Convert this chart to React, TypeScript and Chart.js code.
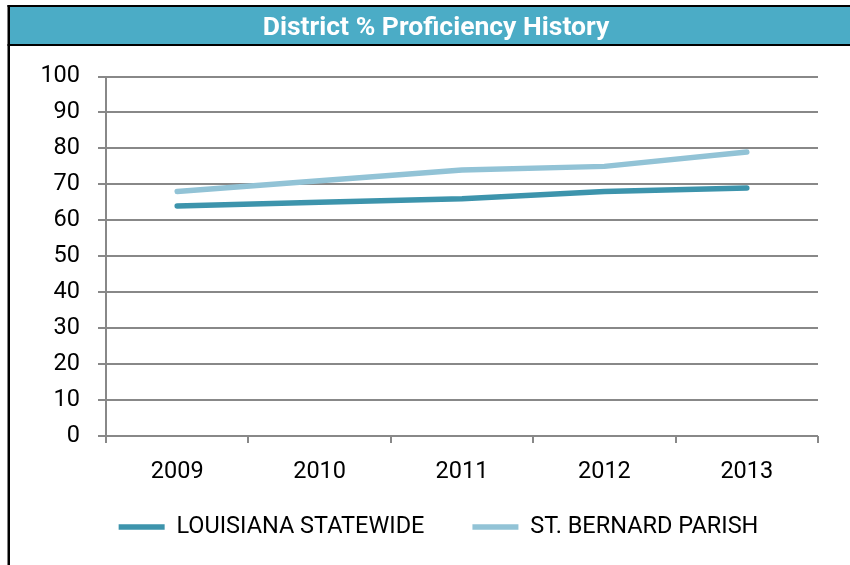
import React, { useEffect, useRef } from 'react';
import { Chart, registerables } from 'chart.js';

Chart.register(...registerables);

const categories = ['2009', '2010', '2011', '2012', '2013'];
const louisianaStatewide = [64, 65, 66, 68, 69];
const stBernardParish = [68, 71, 74, 75, 79];
const seriesLabels = ['LOUISIANA STATEWIDE', 'ST. BERNARD PARISH'];
const chartTitle = 'District % Proficiency History';
const yMin = 0;
const yMax = 100;
const yStep = 10;

const FONT = 'Roboto, "Noto Sans", sans-serif';

const framePlugin = {
  id: 'frame',
  beforeDraw(chart: any) {
    const { ctx, width, height } = chart;
    ctx.save();
    ctx.fillStyle = '#ffffff';
    ctx.fillRect(0, 0, width, height);
    ctx.fillStyle = '#4bacc6';
    ctx.fillRect(9, 7, width - 9, 37);
    ctx.fillStyle = '#000000';
    ctx.fillRect(7.5, 5, width, 2);
    ctx.fillRect(7.5, 44, width, 2);
    ctx.fillRect(7.5, 5, 2.5, height);
    ctx.restore();
  },
  afterLayout(chart: any) {
    const lg = chart.legend;
    if (lg) {
      lg.left = 59;
      lg.right = 818;
      lg.top -= 12.75;
      lg.bottom -= 12.75;
    }
    const tb = chart.titleBlock;
    if (tb) {
      tb.left = 54;
      tb.right = 818;
    }
  },
};

export default function App() {
  const canvasRef = useRef<HTMLCanvasElement | null>(null);

  useEffect(() => {
    if (!canvasRef.current) return;
    const tickFont = { family: FONT, size: 23.5 };
    const chart = new Chart(canvasRef.current, {
      type: 'line',
      data: {
        labels: categories,
        datasets: [
          {
            label: seriesLabels[0],
            data: louisianaStatewide,
            borderColor: '#3d94ac',
            backgroundColor: '#3d94ac',
            borderWidth: 5.5,
            borderCapStyle: 'round',
            borderJoinStyle: 'round',
            pointRadius: 0,
            pointHoverRadius: 0,
            tension: 0,
            fill: false,
          },
          {
            label: seriesLabels[1],
            data: stBernardParish,
            borderColor: '#92c3d6',
            backgroundColor: '#92c3d6',
            borderWidth: 5.5,
            borderCapStyle: 'round',
            borderJoinStyle: 'round',
            pointRadius: 0,
            pointHoverRadius: 0,
            tension: 0,
            fill: false,
          },
        ],
      },
      options: {
        responsive: false,
        animation: false,
        events: [],
        layout: { padding: { left: 0, right: 32, top: 0, bottom: 3.5 } },
        plugins: {
          title: {
            display: true,
            text: chartTitle,
            color: '#ffffff',
            font: { family: FONT, size: 26.5, weight: 'bold', lineHeight: 1.2 },
            padding: { top: 12.1, bottom: 32.6 },
          },
          legend: {
            display: true,
            position: 'bottom',
            labels: {
              usePointStyle: true,
              pointStyle: 'line',
              pointStyleWidth: 46,
              padding: 48,
              color: '#000000',
              font: { family: FONT, size: 23.5 },
            },
          },
          tooltip: { enabled: false },
        },
        scales: {
          x: {
            offset: true,
            grid: {
              offset: true,
              drawOnChartArea: false,
              drawTicks: true,
              tickLength: 7,
              color: '#888888',
              lineWidth: 2,
            },
            border: { display: false },
            ticks: { padding: 15, color: '#000000', font: tickFont, maxRotation: 0 },
            afterFit: (s: any) => {
              s.height = 44;
            },
          },
          y: {
            min: yMin,
            max: yMax,
            ticks: { stepSize: yStep, padding: 18, color: '#000000', font: tickFont },
            grid: { color: '#888888', lineWidth: 2, tickLength: 8 },
            border: { display: true, color: '#888888', width: 2 },
            afterFit: (s: any) => {
              s.width = 106;
            },
          },
        },
      },
      plugins: [framePlugin],
    } as any);
    return () => chart.destroy();
  }, []);

  return (
    <div style={{ position: 'absolute', left: 0, top: 0, width: 850, height: 565 }}>
      <canvas ref={canvasRef} width={850} height={565} style={{ width: 850, height: 565, display: 'block' }} />
    </div>
  );
}
